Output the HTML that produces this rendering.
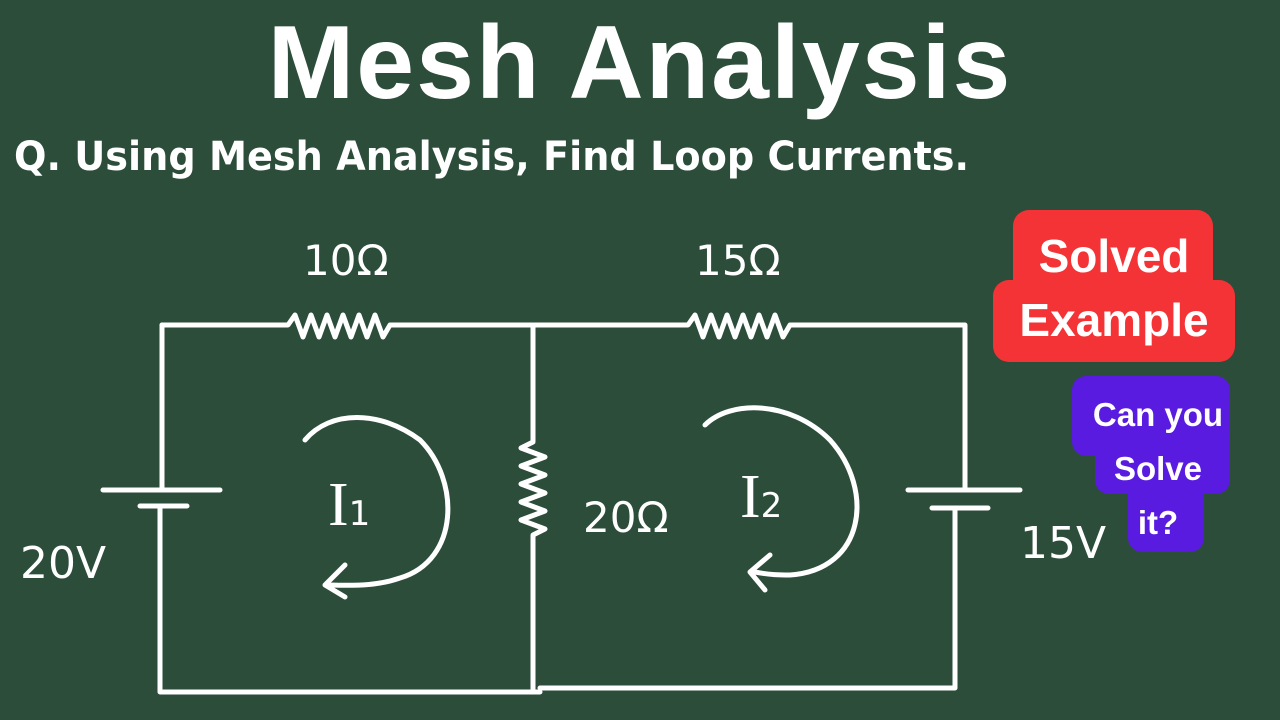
<!DOCTYPE html>
<html><head><style>
body{margin:0;width:1280px;height:720px;background:#2c4d3a;overflow:hidden;position:relative;font-family:"Liberation Sans",sans-serif}
.t{position:absolute;color:#fff}
</style></head><body>
<div class="t" style="left:0;width:1280px;top:4px;text-align:center;font-size:104px;font-weight:bold;letter-spacing:2px">Mesh Analysis</div>
<div class="t" style="left:14px;top:134px;font-size:40px;font-weight:bold;font-family:'DejaVu Sans',sans-serif;transform:scaleX(0.955);transform-origin:left;white-space:nowrap">Q. Using Mesh Analysis, Find Loop Currents.</div>
<svg width="1280" height="720" style="position:absolute;left:0;top:0" fill="none" stroke="#fff" stroke-width="5" stroke-linecap="round" stroke-linejoin="round">
<path d="M162 325H288 l7 -10 8 22 8 -22 8 22 8 -22 8 22 8 -22 8 22 8 -22 8 22 8 -22 8 22 7 -12 H688 l7 -10 8 22 8 -22 8 22 8 -22 8 22 8 -22 8 22 8 -22 8 22 8 -22 8 22 7 -12 H965 V490"/>
<path d="M162 325V490M103 490H220M140 506H187M160 506V692H540M540 688H955V508M908 490H1020M932 508H988"/>
<path d="M533 325V442 l-12 6 24 9 -24 9 24 9 -24 9 24 9 -24 9 24 9 -24 9 24 9 -12 6 V690"/>
<path d="M305 440C330 410 380 410 420 440 C460 480 460 560 400 578 C380 585 360 586 330 585 M345 565 L325 585 L345 597"/>
<path d="M705 425C730 400 790 400 830 440 C875 490 865 570 790 575 C780 575 770 575 755 572 M770 555 L750 572 L765 590"/>
</svg>
<div class="t" style="left:303px;top:236px;font-size:42px;font-family:'DejaVu Sans',sans-serif">10Ω</div>
<div class="t" style="left:695px;top:236px;font-size:42px;font-family:'DejaVu Sans',sans-serif">15Ω</div>
<div class="t" style="left:20px;top:538px;font-size:44px;font-family:'DejaVu Sans',sans-serif">20V</div>
<div class="t" style="left:583px;top:493px;font-size:42px;font-family:'DejaVu Sans',sans-serif">20Ω</div>
<div class="t" style="left:1020px;top:518px;font-size:44px;font-family:'DejaVu Sans',sans-serif">15V</div>
<div class="t" style="left:328px;top:470px;font-size:62px;font-family:'Liberation Serif',serif">I<span style="font-size:34px;font-family:'DejaVu Sans'">1</span></div>
<div class="t" style="left:740px;top:462px;font-size:62px;font-family:'Liberation Serif',serif">I<span style="font-size:34px;font-family:'DejaVu Sans'">2</span></div>
<div style="position:absolute;left:1013px;top:210px;width:200px;height:152px;background:#f43336;border-radius:16px"></div>
<div style="position:absolute;left:993px;top:280px;width:242px;height:82px;background:#f43336;border-radius:16px"></div>
<div class="t" style="left:993px;width:242px;top:224px;text-align:center;font-size:46px;font-weight:bold;line-height:64px">Solved<br>Example</div>
<div style="position:absolute;left:1072px;top:376px;width:158px;height:80px;background:#5a1be0;border-radius:14px"></div>
<div style="position:absolute;left:1095px;top:430px;width:135px;height:64px;background:#5a1be0;border-radius:14px"></div>
<div style="position:absolute;left:1128px;top:470px;width:76px;height:82px;background:#5a1be0;border-radius:14px"></div>
<div class="t" style="left:1072px;width:186px;top:388px;text-align:center;font-size:33px;font-weight:bold;line-height:54px;margin-left:-7px">Can you<br>Solve<br>it?</div>
</body></html>
